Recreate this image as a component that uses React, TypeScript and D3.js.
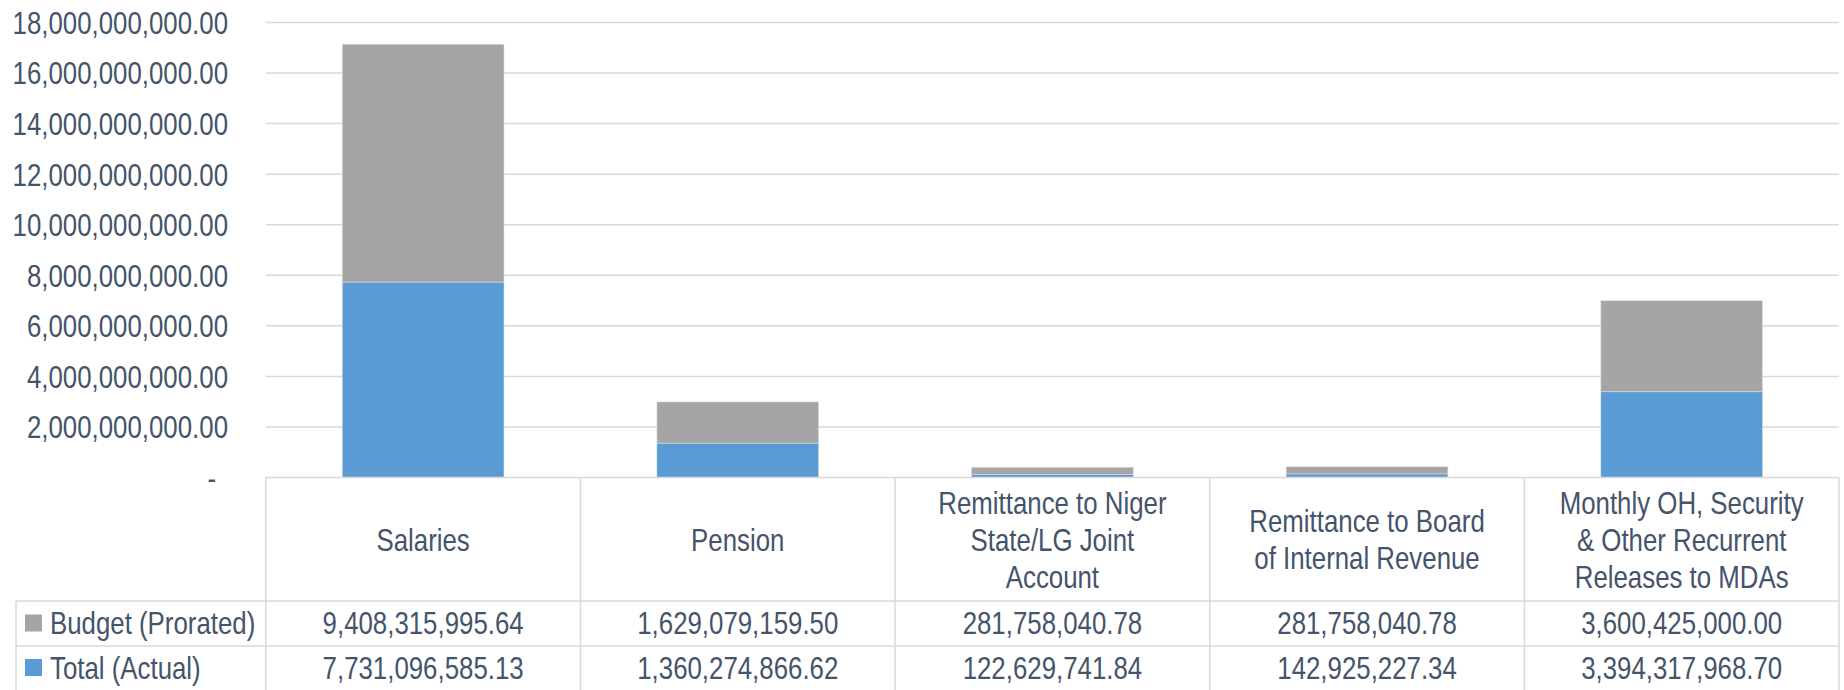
import React, { useEffect } from "react";
import * as d3 from "d3";

const categories: string[][] = [
  ["Salaries"],
  ["Pension"],
  ["Remittance to Niger", "State/LG Joint", "Account"],
  ["Remittance to Board", "of Internal Revenue"],
  ["Monthly OH, Security", "& Other Recurrent", "Releases to MDAs"],
];
const budgetValues = [9408315995.64, 1629079159.5, 281758040.78, 281758040.78, 3600425000.0];
const actualValues = [7731096585.13, 1360274866.62, 122629741.84, 142925227.34, 3394317968.7];
const seriesNames = ["Budget (Prorated)", "Total (Actual)"];
const seriesColors = ["#A5A5A5", "#5B9BD5"];
const yTicks = [0, 2e9, 4e9, 6e9, 8e9, 10e9, 12e9, 14e9, 16e9, 18e9];

const W = 1844;
const H = 690;
const FONT = "'Liberation Sans', Arial, sans-serif";
const TXT = "#44546A";
const GRID = "#D9D9D9";
const FS = 31.5;
const SX = 0.82;

function T({ x, y, anchor = "start", children }: { x: number; y: number; anchor?: string; children: any }) {
  return (
    <text
      transform={`translate(${x},${y}) scale(${SX},1)`}
      dy="0.36em"
      textAnchor={anchor}
      fontSize={FS}
      fill={TXT}
    >
      {children}
    </text>
  );
}

export default function App() {
  useEffect(() => {
    document.body.style.margin = "0";
  }, []);

  const plotLeft = 265.8;
  const plotRight = 1839;
  const legendLeft = 16;
  const y0 = 477.5;
  const yTop = 22.5;
  const headerBottom = 601;
  const row1Bottom = 646;

  const x = d3
    .scaleBand<number>()
    .domain(d3.range(categories.length))
    .range([plotLeft, plotRight])
    .paddingInner(0)
    .paddingOuter(0);
  const y = d3.scaleLinear().domain([0, 18e9]).range([y0, yTop]);

  const fmt = d3.format(",.2f");
  const bw = x.bandwidth();
  const barW = bw * 0.514;

  const stackData = categories.map((_, i) => ({ actual: actualValues[i], budget: budgetValues[i] }));
  const stack = d3.stack<any>().keys(["actual", "budget"]);
  const stacked = stack(stackData);
  const colorFor: Record<string, string> = { actual: seriesColors[1], budget: seriesColors[0] };

  const rows = [
    { name: seriesNames[0], color: seriesColors[0], values: budgetValues, cy: 623 },
    { name: seriesNames[1], color: seriesColors[1], values: actualValues, cy: 667.5 },
  ];

  return (
    <svg width={W} height={H} style={{ display: "block" }} fontFamily={FONT}>
      <rect x={0} y={0} width={W} height={H} fill="#fff" />
      {yTicks.filter((t) => t > 0).map((t) => (
        <line key={t} x1={plotLeft} x2={plotRight} y1={y(t)} y2={y(t)} stroke={GRID} strokeWidth={1.5} />
      ))}
      {yTicks.map((t) => (
        <T key={"l" + t} x={t === 0 ? 216 : 228} y={y(t)} anchor="end">
          {t === 0 ? "-" : fmt(t)}
        </T>
      ))}
      {stacked.map((layer) =>
        layer.map((d, i) => (
          <rect
            key={layer.key + i}
            x={(x(i) as number) + (bw - barW) / 2}
            y={y(d[1])}
            width={barW}
            height={Math.max(0, y(d[0]) - y(d[1]))}
            fill={colorFor[layer.key]}
            stroke="#E0E0E0"
            strokeOpacity={0.7}
            strokeWidth={0.75}
          />
        ))
      )}
      <line x1={plotLeft} x2={plotRight} y1={y0} y2={y0} stroke={GRID} strokeWidth={1.5} />
      <line x1={legendLeft} x2={plotRight} y1={headerBottom} y2={headerBottom} stroke={GRID} strokeWidth={1.5} />
      <line x1={legendLeft} x2={plotRight} y1={row1Bottom} y2={row1Bottom} stroke={GRID} strokeWidth={1.5} />
      <line x1={legendLeft} x2={legendLeft} y1={headerBottom} y2={H} stroke={GRID} strokeWidth={1.5} />
      {d3.range(categories.length + 1).map((i) => {
        const xx = i < categories.length ? (x(i) as number) : plotRight;
        return <line key={"v" + i} x1={xx} x2={xx} y1={y0} y2={H} stroke={GRID} strokeWidth={1.5} />;
      })}
      {categories.map((lines, i) => {
        const cx = (x(i) as number) + bw / 2;
        const cy = (y0 + headerBottom) / 2;
        const lh = 37;
        return (
          <g key={"c" + i}>
            {lines.map((ln, j) => (
              <T key={j} x={cx} y={cy + (j - (lines.length - 1) / 2) * lh} anchor="middle">
                {ln}
              </T>
            ))}
          </g>
        );
      })}
      {rows.map((r) => (
        <g key={r.name}>
          <rect x={25} y={r.cy - 8.5} width={17} height={17} fill={r.color} />
          <T x={50} y={r.cy}>{r.name}</T>
          {r.values.map((v, i) => (
            <T key={i} x={(x(i) as number) + bw / 2} y={r.cy} anchor="middle">
              {fmt(v)}
            </T>
          ))}
        </g>
      ))}
    </svg>
  );
}
